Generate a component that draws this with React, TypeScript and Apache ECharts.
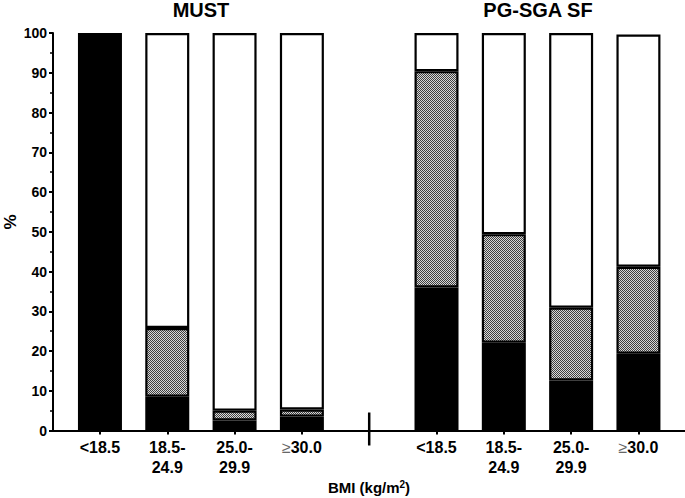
import React, { useEffect, useRef } from "react";
import * as echarts from "echarts";

const bmiCategories = ["<18.5", "18.5-\n24.9", "25.0-\n29.9", "≥30.0"];
const mustBlack = [100, 8.5, 2.5, 3.5];
const mustHatch = [0, 17.3, 2.5, 1.8];
const mustTotal = [100, 100, 100, 100];
const pgBlack = [36.0, 22.1, 12.6, 19.3];
const pgHatch = [54.4, 27.3, 18.3, 21.9];
const pgTotal = [100, 100, 100, 99.6];
const yTicks = [0, 10, 20, 30, 40, 50, 60, 70, 80, 90, 100];

const FONT = "'Liberation Sans', Arial, sans-serif";

export default function App() {
  const ref = useRef<HTMLDivElement>(null);
  useEffect(() => {
    if (!ref.current) return;
    const chart = echarts.init(ref.current, null, { renderer: "svg" });

    const cv = document.createElement("canvas");
    cv.width = 2;
    cv.height = 2;
    const ctx = cv.getContext("2d")!;
    ctx.fillStyle = "#d8d8d8";
    ctx.fillRect(0, 0, 2, 2);
    ctx.fillStyle = "#404040";
    ctx.fillRect(0, 0, 1, 1);
    ctx.fillRect(1, 1, 1, 1);

    const cats = [...bmiCategories, "", ...bmiCategories];
    const nz = (v: number) => (v > 0.05 ? +v.toFixed(2) : "-");
    const blackData = [...mustBlack.map(nz), "-", ...pgBlack.map(nz)];
    const hatchData = [...mustHatch.map(nz), "-", ...pgHatch.map(nz)];
    const whiteData = [
      ...mustTotal.map((t, i) => nz(t - mustBlack[i] - mustHatch[i])),
      "-",
      ...pgTotal.map((t, i) => nz(t - pgBlack[i] - pgHatch[i])),
    ];

    const top = 33;
    const height = 397.5;
    const base = {
      type: "bar",
      stack: "s",
      xAxisIndex: 1,
      yAxisIndex: 1,
      barWidth: 44,
    };
    const border = { borderColor: "#000", borderWidth: 2.2 };

    chart.setOption({
      animation: false,
      backgroundColor: "#fff",
      grid: [
        { left: 53, top, right: 0, height },
        { left: 66.3, top, width: 605.8, height },
      ],
      xAxis: [
        {
          type: "value",
          gridIndex: 0,
          min: 0,
          max: 1,
          axisLine: { show: true, onZero: false, lineStyle: { color: "#000", width: 2 } },
          axisTick: { show: false },
          axisLabel: { show: false },
          splitLine: { show: false },
        },
        {
          type: "category",
          gridIndex: 1,
          data: cats,
          axisLine: { show: false },
          axisTick: {
            show: true,
            alignWithLabel: true,
            length: 4,
            interval: (i: number) => i !== 4,
            lineStyle: { color: "#000", width: 2 },
          },
          axisLabel: {
            interval: 0,
            margin: 7,
            color: "#000",
            fontFamily: FONT,
            fontWeight: "bold",
            fontSize: 16,
            lineHeight: 20,
            formatter: (v: string) =>
              v.startsWith("≥") ? "{n|≥}" + v.slice(1) : v,
            rich: {
              n: { fontWeight: "normal", fontSize: 16, lineHeight: 20, color: "#666", fontFamily: FONT },
            },
          },
        },
      ],
      yAxis: [
        {
          type: "value",
          gridIndex: 0,
          min: yTicks[0],
          max: yTicks[yTicks.length - 1],
          interval: 10,
          axisLine: { show: true, lineStyle: { color: "#000", width: 2 } },
          axisTick: { show: true, length: 4, lineStyle: { color: "#000", width: 2 } },
          minorTick: { show: true, splitNumber: 2, length: 3, lineStyle: { color: "#000", width: 1.5 } },
          axisLabel: {
            margin: 6,
            color: "#000",
            fontFamily: FONT,
            fontWeight: "bold",
            fontSize: 14,
          },
          splitLine: { show: false },
        },
        {
          type: "value",
          gridIndex: 1,
          min: 0,
          max: 100,
          show: false,
        },
      ],
      series: [
        { ...base, name: "black", data: blackData, itemStyle: { color: "#000", ...border } },
        {
          ...base,
          name: "hatch",
          data: hatchData,
          itemStyle: { color: { image: cv, repeat: "repeat" }, ...border },
        },
        { ...base, name: "white", data: whiteData, itemStyle: { color: "#fff", ...border } },
      ],
    });

    const sepX = chart.convertToPixel({ xAxisIndex: 1 }, 4) as number;
    const axisY = top + height;
    chart.setOption({
      graphic: [
        {
          type: "line",
          shape: { x1: sepX, y1: axisY - 18, x2: sepX, y2: axisY + 15 },
          style: { stroke: "#000", lineWidth: 2.5 },
        },
        {
          type: "text",
          x: 201,
          y: 10,
          style: {
            text: "MUST",
            font: `bold 20px ${FONT}`,
            fill: "#000",
            align: "center",
            verticalAlign: "middle",
          },
        },
        {
          type: "text",
          x: 538,
          y: 10,
          style: {
            text: "PG-SGA SF",
            font: `bold 20px ${FONT}`,
            fill: "#000",
            align: "center",
            verticalAlign: "middle",
          },
        },
        {
          type: "text",
          x: 10,
          y: 222,
          rotation: Math.PI / 2,
          style: {
            text: "%",
            font: `bold 17px ${FONT}`,
            fill: "#000",
            align: "center",
            verticalAlign: "middle",
          },
        },
        {
          type: "text",
          x: 369,
          y: 487,
          style: {
            text: "{a|BMI (kg/m}{s|2}{a|)}",
            align: "center",
            verticalAlign: "middle",
            rich: {
              a: { font: `bold 15px ${FONT}`, fill: "#000", verticalAlign: "bottom" },
              s: { font: `bold 10px ${FONT}`, fill: "#000", verticalAlign: "top", padding: [0, 0, 6, 0] },
            },
          },
        },
      ],
    });

    return () => chart.dispose();
  }, []);
  return (
    <div
      ref={ref}
      style={{ position: "absolute", left: 0, top: 0, width: 685, height: 498 }}
    />
  );
}
